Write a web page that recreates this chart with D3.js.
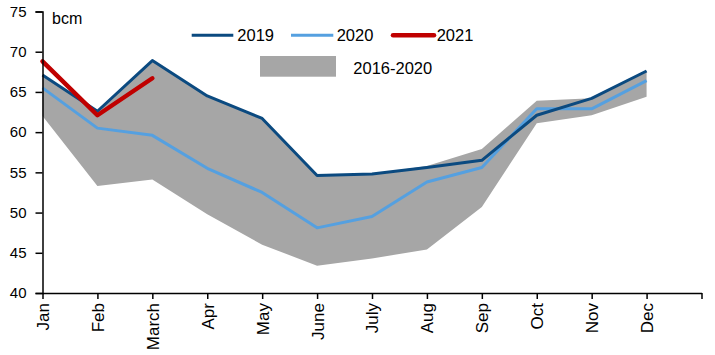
<!DOCTYPE html>
<html><head><meta charset="utf-8">
<script src="https://cdn.jsdelivr.net/npm/d3@7"></script>
<style>
html,body{margin:0;padding:0;background:#fff;}
svg{display:block;font-family:"Liberation Sans",Arial,sans-serif;}
</style></head>
<body><svg id="c" width="715" height="355"></svg>
<script>
const months = ["Jan","Feb","March","Apr","May","June","July","Aug","Sep","Oct","Nov","Dec"];
const yTicks = [40,45,50,55,60,65,70,75];
const s2019 = [67.1,62.6,68.9,64.5,61.7,54.6,54.8,55.6,56.5,62.1,64.2,67.6];
const s2020 = [65.5,60.5,59.6,55.5,52.5,48.1,49.5,53.8,55.6,62.9,62.9,66.4];
const s2021 = [68.8,62.1,66.7];
const bandHigh = [67.1,62.6,68.9,64.5,61.7,54.6,54.8,55.8,57.9,63.9,64.2,67.6];
const bandLow = [62.0,53.3,54.1,49.8,46.0,43.4,44.3,45.4,50.7,61.1,62.1,64.4];

const svg = d3.select("#c");
const x = d3.scalePoint().domain([...months, ""]).range([42.5, 701.5]);
const y = d3.scaleLinear().domain([40,75]).range([293, 11.5]);

// band
const area = d3.area().x((d,i)=>x(months[i])).y0((d,i)=>y(bandLow[i])).y1(d=>y(d));
svg.append("path").datum(bandHigh).attr("d", area).attr("fill","#a6a6a6");

const line = d3.line().x((d,i)=>x(months[i])).y(d=>y(d));
svg.append("path").datum(s2020).attr("d",line).attr("fill","none").attr("stroke","#55a0e0").attr("stroke-width",3).attr("stroke-linejoin","round");
svg.append("path").datum(s2019).attr("d",line).attr("fill","none").attr("stroke","#0b4a80").attr("stroke-width",3).attr("stroke-linejoin","round");
svg.append("path").datum(s2021).attr("d",line).attr("fill","none").attr("stroke","#c00000").attr("stroke-width",4.5).attr("stroke-linejoin","round").attr("stroke-linecap","round");

// axes
const yAxis = svg.append("g").attr("transform","translate(42.5,0)")
  .call(d3.axisLeft(y).tickValues(yTicks).tickSize(7).tickPadding(9));
yAxis.select(".domain").attr("stroke","#000").attr("stroke-width",1.5);
yAxis.selectAll(".tick line").attr("stroke","#000").attr("stroke-width",1.5);
yAxis.selectAll("text").attr("font-size","15px").attr("fill","#000").attr("font-family","Liberation Sans, Arial, sans-serif");

const xAxis = svg.append("g").attr("transform","translate(0,293)")
  .call(d3.axisBottom(x).tickSize(6).tickSizeOuter(0));
xAxis.select(".domain").attr("stroke","#000").attr("stroke-width",1.5);
xAxis.selectAll(".tick line").attr("stroke","#000").attr("stroke-width",1.5);
xAxis.selectAll("text")
  .attr("font-size","17px").attr("fill","#000").attr("font-family","Liberation Sans, Arial, sans-serif")
  .attr("text-anchor","end").attr("transform","rotate(-90)")
  .attr("x",-10).attr("y",0).attr("dy","0.35em");

svg.append("text").attr("x",52).attr("y",24).attr("font-size","16px").text("bcm");

// legend
const leg = [
  {name:"2019", color:"#0b4a80", w:3, x1:191.7, x2:233.3, tx:237.3},
  {name:"2020", color:"#55a0e0", w:3, x1:291, x2:333.3, tx:336.7},
  {name:"2021", color:"#c00000", w:4.5, x1:393, x2:434, tx:436.7}
];
leg.forEach(l=>{
  svg.append("line").attr("x1",l.x1).attr("x2",l.x2).attr("y1",35.3).attr("y2",35.3)
    .attr("stroke",l.color).attr("stroke-width",l.w).attr("stroke-linecap", l.name==="2021"?"round":"butt");
  svg.append("text").attr("x",l.tx).attr("y",41).attr("font-size","16.5px").text(l.name);
});
svg.append("rect").attr("x",260).attr("y",56).attr("width",76).attr("height",20.7).attr("fill","#a6a6a6");
svg.append("text").attr("x",353.3).attr("y",74).attr("font-size","16.5px").text("2016-2020");
</script></body></html>
